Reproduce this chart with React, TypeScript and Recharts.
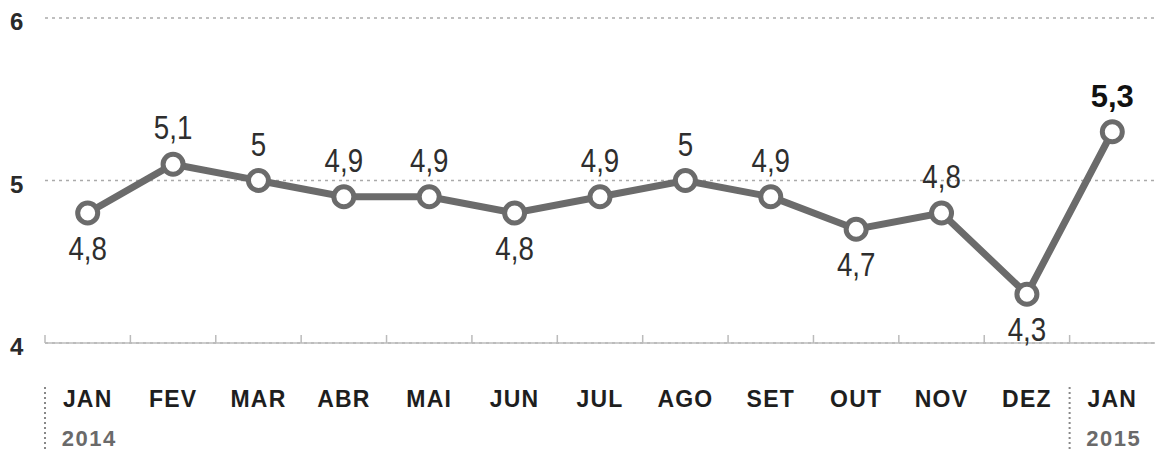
import React from 'react';
import { LineChart, Line, XAxis, YAxis, CartesianGrid, LabelList } from 'recharts';

// Taxa de desemprego, jan/2014 a jan/2015
const categories = ['jan14', 'fev14', 'mar14', 'abr14', 'mai14', 'jun14', 'jul14', 'ago14', 'set14', 'out14', 'nov14', 'dez14', 'jan15'];
const monthLabels = ['JAN', 'FEV', 'MAR', 'ABR', 'MAI', 'JUN', 'JUL', 'AGO', 'SET', 'OUT', 'NOV', 'DEZ', 'JAN'];
const yearLabels = ['2014', '', '', '', '', '', '', '', '', '', '', '', '2015'];
const values = [4.8, 5.1, 5.0, 4.9, 4.9, 4.8, 4.9, 5.0, 4.9, 4.7, 4.8, 4.3, 5.3];
const valueLabels = ['4,8', '5,1', '5', '4,9', '4,9', '4,8', '4,9', '5', '4,9', '4,7', '4,8', '4,3', '5,3'];
const labelSide = ['below', 'above', 'above', 'above', 'above', 'below', 'above', 'above', 'above', 'below', 'above', 'below', 'above'];
const yTicks = [4, 5, 6];

const W = 1157;
const H = 451;
const Y_W = 45;
const M = { top: 18, right: 2, left: 0, bottom: 0 };
const HALF_BAND = (W - Y_W - M.right) / categories.length / 2;

const data = categories.map((c, i) => ({ name: c, value: values[i] }));

const LINE = '#6b6b6b';
const SANS = "'Liberation Sans', Arial, Helvetica, sans-serif";

const MonthTick = (props: any) => {
  const { x, y, index } = props;
  const year = yearLabels[index];
  const sep = index === 0 || index === categories.length - 1;
  return (
    <g>
      <line x1={x - HALF_BAND} x2={x - HALF_BAND} y1={y - 8} y2={y} stroke="#bbb" strokeWidth={1.5} />
      {sep && (
        <line
          x1={x - HALF_BAND}
          x2={x - HALF_BAND}
          y1={y + 44}
          y2={y + 108}
          stroke="#888"
          strokeWidth={2}
          strokeDasharray="2 3"
        />
      )}
      <text
        x={x}
        y={y + 64}
        textAnchor="middle"
        fontFamily={SANS}
        fontWeight="bold"
        fontSize={23}
        letterSpacing={1.2}
        fill="#1e1e1e"
      >
        {monthLabels[index]}
      </text>
      {year && (
        <text x={x - 26} y={y + 103} fontFamily={SANS} fontWeight="bold" fontSize={22} letterSpacing={1.5} fill="#6a6a6a">
          {year}
        </text>
      )}
    </g>
  );
};

const ValueTick = (props: any) => {
  const { y, payload } = props;
  return (
    <text x={10} y={y + 12} fontFamily={SANS} fontWeight="bold" fontSize={24} fill="#2a2a2a">
      {payload.value}
    </text>
  );
};

const PointLabel = (props: any) => {
  const { x, y, index } = props;
  const last = index === categories.length - 1;
  const below = labelSide[index] === 'below';
  const ty = below ? y + 47 : y - 25;
  if (last) {
    return (
      <text x={x} y={ty} textAnchor="middle" fontFamily={SANS} fontWeight="bold" fontSize={31} fill="#111">
        {valueLabels[index]}
      </text>
    );
  }
  return (
    <text
      transform={`translate(${x},${ty}) scale(0.84,1)`}
      x={0}
      y={0}
      textAnchor="middle"
      fontFamily={SANS}
      fontSize={33}
      fill="#2e2e2e"
    >
      {valueLabels[index]}
    </text>
  );
};

export default function App() {
  return (
    <div style={{ width: W, height: H, background: '#fff' }}>
      <style>{`body{margin:0}`}</style>
      <LineChart width={W} height={H} data={data} margin={M}>
        <CartesianGrid vertical={false} stroke="#aaa" strokeWidth={1.5} strokeDasharray="3 4" />
        <XAxis
          dataKey="name"
          scale="band"
          height={H - 343}
          tick={<MonthTick />}
          tickLine={false}
          tickSize={0}
          tickMargin={0}
          axisLine={{ stroke: '#bbb', strokeWidth: 1.5 }}
          interval={0}
        />
        <YAxis
          domain={[4, 6]}
          ticks={yTicks}
          width={Y_W}
          axisLine={false}
          tickLine={false}
          tick={<ValueTick />}
        />
        <Line
          type="linear"
          dataKey="value"
          stroke={LINE}
          strokeWidth={7}
          dot={{ r: 10, fill: '#fff', stroke: LINE, strokeWidth: 5 }}
          isAnimationActive={false}
        >
          <LabelList dataKey="value" content={<PointLabel />} />
        </Line>
      </LineChart>
    </div>
  );
}
